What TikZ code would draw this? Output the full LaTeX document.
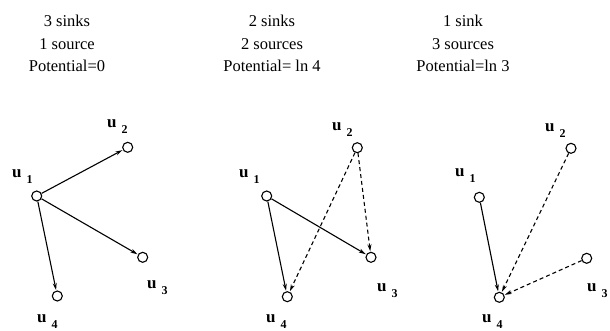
\documentclass[tikz,border=0pt]{standalone}
\usepackage{fontspec}
\setmainfont{Liberation Serif}
\usetikzlibrary{arrows.meta}
\newcommand{\ulab}[1]{\textbf{u}\hspace{5pt}\raisebox{-6pt}{\fontsize{12}{12}\selectfont\bfseries #1}}
\tikzset{
  vtx/.style={circle,draw,line width=1.1pt,minimum size=10pt,inner sep=0pt,fill=white},
  lab/.style={anchor=base west,inner sep=0pt,font=\fontsize{17}{17}\selectfont},
  ttl/.style={anchor=base,inner sep=0pt,font=\fontsize{16.5}{16.5}\selectfont},
  edge/.style={line width=1.1pt,-{Stealth[length=7pt,width=4pt]},shorten >=0.5pt},
  dedge/.style={edge,dash pattern=on 4pt off 3pt},
}
\begin{document}
\begin{tikzpicture}[x=1pt,y=-1pt]
\useasboundingbox (0,0) rectangle (610,330);
% titles
\node[ttl] (t1a) at (67,26.7) {3 sinks};
\node[ttl] (t1b) at (67,49) {1 source};
\node[ttl] (t1c) at (67,71.7) {Potential=0};
\node[ttl] (t2a) at (272,26.7) {2 sinks};
\node[ttl] (t2b) at (272,49) {2 sources};
\node[ttl] (t2c) at (272,71.7) {Potential= ln 4};
\node[ttl] (t3a) at (463,26.7) {1 sink};
\node[ttl] (t3b) at (463,49) {3 sources};
\node[ttl] (t3c) at (463,71.7) {Potential=ln 3};
% panel 1
\node[vtx] (a1) at (36.7,196) {};
\node[vtx] (a2) at (127.7,147.3) {};
\node[vtx] (a3) at (142.7,257.3) {};
\node[vtx] (a4) at (57.3,296) {};
\node[lab] (la1) at (12,177) {\ulab{1}};
\node[lab] (la2) at (107,127) {\ulab{2}};
\node[lab] (la3) at (147,288) {\ulab{3}};
\node[lab] (la4) at (37,322) {\ulab{4}};
\draw[edge] (a1) -- (a2);
\draw[edge] (a1) -- (a3);
\draw[edge] (a1) -- (a4);
% panel 2
\node[vtx] (b1) at (266.7,196) {};
\node[vtx] (b2) at (357.3,147.7) {};
\node[vtx] (b3) at (371,257.3) {};
\node[vtx] (b4) at (287.3,296.7) {};
\node[lab] (lb1) at (239,177) {\ulab{1}};
\node[lab] (lb2) at (332,130) {\ulab{2}};
\node[lab] (lb3) at (377,291) {\ulab{3}};
\node[lab] (lb4) at (266,322) {\ulab{4}};
\draw[edge] (b1) -- (b4);
\draw[edge] (b1) -- (b3);
\draw[dedge] (b2) -- (b4);
\draw[dedge] (b2) -- (b3);
% panel 3
\node[vtx] (c1) at (479.3,197.3) {};
\node[vtx] (c2) at (571,148.3) {};
\node[vtx] (c3) at (586.7,258.3) {};
\node[vtx] (c4) at (499.3,297.3) {};
\node[lab] (lc1) at (455,176) {\ulab{1}};
\node[lab] (lc2) at (545,131) {\ulab{2}};
\node[lab] (lc3) at (587,291) {\ulab{3}};
\node[lab] (lc4) at (482,322) {\ulab{4}};
\draw[edge] (c1) -- (c4);
\draw[dedge] (c2) -- (c4);
\draw[dedge] (c3) -- (c4);
\end{tikzpicture}
\end{document}
